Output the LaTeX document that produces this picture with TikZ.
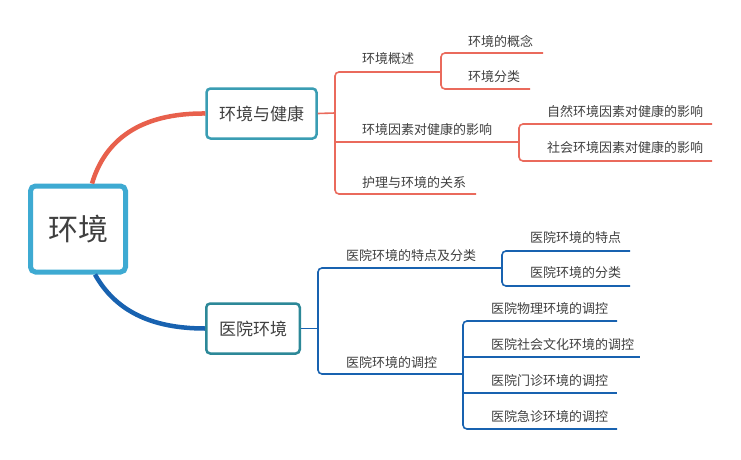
\documentclass[tikz,border=0pt]{standalone}
\usepackage{fontspec}
\setmainfont{Noto Sans CJK SC}
\definecolor{redline}{HTML}{E8604C}
\definecolor{redthin}{HTML}{EA6A5C}
\definecolor{blueline}{HTML}{1862B0}
\definecolor{rootc}{HTML}{3EAAD2}
\definecolor{tealA}{HTML}{3A9DB3}
\definecolor{tealB}{HTML}{2C8898}
\definecolor{txt}{HTML}{404040}
\begin{document}
\begin{tikzpicture}[x=1pt,y=-1pt,
  rootbox/.style={draw=rootc,line width=5pt,rounded corners=5pt,fill=white,minimum width=95pt,minimum height=86pt,inner sep=0pt,text=txt,font=\fontsize{30}{34}\selectfont},
  subbox/.style={line width=2.5pt,rounded corners=4pt,fill=white,minimum height=50pt,inner sep=0pt,text=txt,font=\fontsize{17}{20}\selectfont},
  lbl/.style={anchor=west,inner sep=0pt,text=txt,font=\fontsize{13}{15}\selectfont},
  rl/.style={draw=redthin,line width=1.6pt,rounded corners=4pt},
  bl/.style={draw=blueline,line width=1.6pt,rounded corners=4pt}]
\useasboundingbox (0,0) rectangle (741,460);
\fill[white] (0,0) rectangle (741,460);

% main nodes
\node[rootbox] (root) at (78,229) {环境};
\node[subbox,draw=tealA,minimum width=110pt] (hj) at (261.5,113.5) {环境与健康};
\node[subbox,draw=tealB,minimum width=93.5pt] (yy) at (253,328.5) {医院环境};

% main curves
\draw[redline,line width=4.5pt] (root.north) ++(14,0) coordinate (rs) .. controls (105,140) and (140,113) .. (hj.west);
\draw[blueline,line width=4.5pt] (root.south) ++(17,0) coordinate (bs) .. controls (115,310) and (150,328.5) .. (yy.west);

% ---------- red branch ----------
\coordinate (rb) at (335,113);
\coordinate (a1) at (335,72);
\coordinate (a2) at (335,142);
\coordinate (a3) at (335,194);
\coordinate (a1e) at (441,72);
\coordinate (a2e) at (519,142);
\coordinate (a3e) at (476,194);
\node[lbl] (t1) at (362,59) {环境概述};
\node[lbl] (t2) at (362,130) {环境因素对健康的影响};
\node[lbl] (t3) at (362,183) {护理与环境的关系};
\draw[rl] (hj.east) -- (rb);
\draw[rl] (a1e) -- (a1) -- (a3) -- (a3e);
\draw[rl] (a2) -- (a2e);

% sub of 环境概述
\coordinate (b1e) at (543,53);
\coordinate (b2e) at (530,89);
\node[lbl] (t11) at (468,41) {环境的概念};
\node[lbl] (t12) at (468,77) {环境分类};
\draw[rl] (b1e) -- (441,53) -- (441,89) -- (b2e);

% sub of 环境因素
\coordinate (c1e) at (712,124);
\coordinate (c2e) at (712,161);
\node[lbl] (t21) at (547,112) {自然环境因素对健康的影响};
\node[lbl] (t22) at (547,148) {社会环境因素对健康的影响};
\draw[rl] (c1e) -- (519,124) -- (519,161) -- (c2e);

% ---------- blue branch ----------
\coordinate (bb) at (318,328.5);
\coordinate (d1) at (318,268);
\coordinate (d2) at (318,374);
\coordinate (d1e) at (502,268);
\coordinate (d2e) at (463,374);
\node[lbl] (u1) at (346,256) {医院环境的特点及分类};
\node[lbl] (u2) at (346,363) {医院环境的调控};
\draw[bl] (yy.east) -- (bb);
\draw[bl] (d1e) -- (d1) -- (d2) -- (d2e);

% sub of 特点及分类
\coordinate (e1e) at (630,251);
\coordinate (e2e) at (630,286);
\node[lbl] (u11) at (530,238) {医院环境的特点};
\node[lbl] (u12) at (530,273) {医院环境的分类};
\draw[bl] (e1e) -- (502,251) -- (502,286) -- (e2e);

% sub of 调控
\coordinate (f1e) at (617,321);
\coordinate (f2e) at (640,357);
\coordinate (f3e) at (617,393);
\coordinate (f4e) at (617,429);
\coordinate (f2) at (463,357);
\coordinate (f3) at (463,393);
\node[lbl] (u21) at (491,309) {医院物理环境的调控};
\node[lbl] (u22) at (491,345) {医院社会文化环境的调控};
\node[lbl] (u23) at (491,381) {医院门诊环境的调控};
\node[lbl] (u24) at (491,417) {医院急诊环境的调控};
\draw[bl] (f1e) -- (463,321) -- (463,429) -- (f4e);
\draw[bl] (f2) -- (f2e);
\draw[bl] (f3) -- (f3e);
\end{tikzpicture}
\end{document}
